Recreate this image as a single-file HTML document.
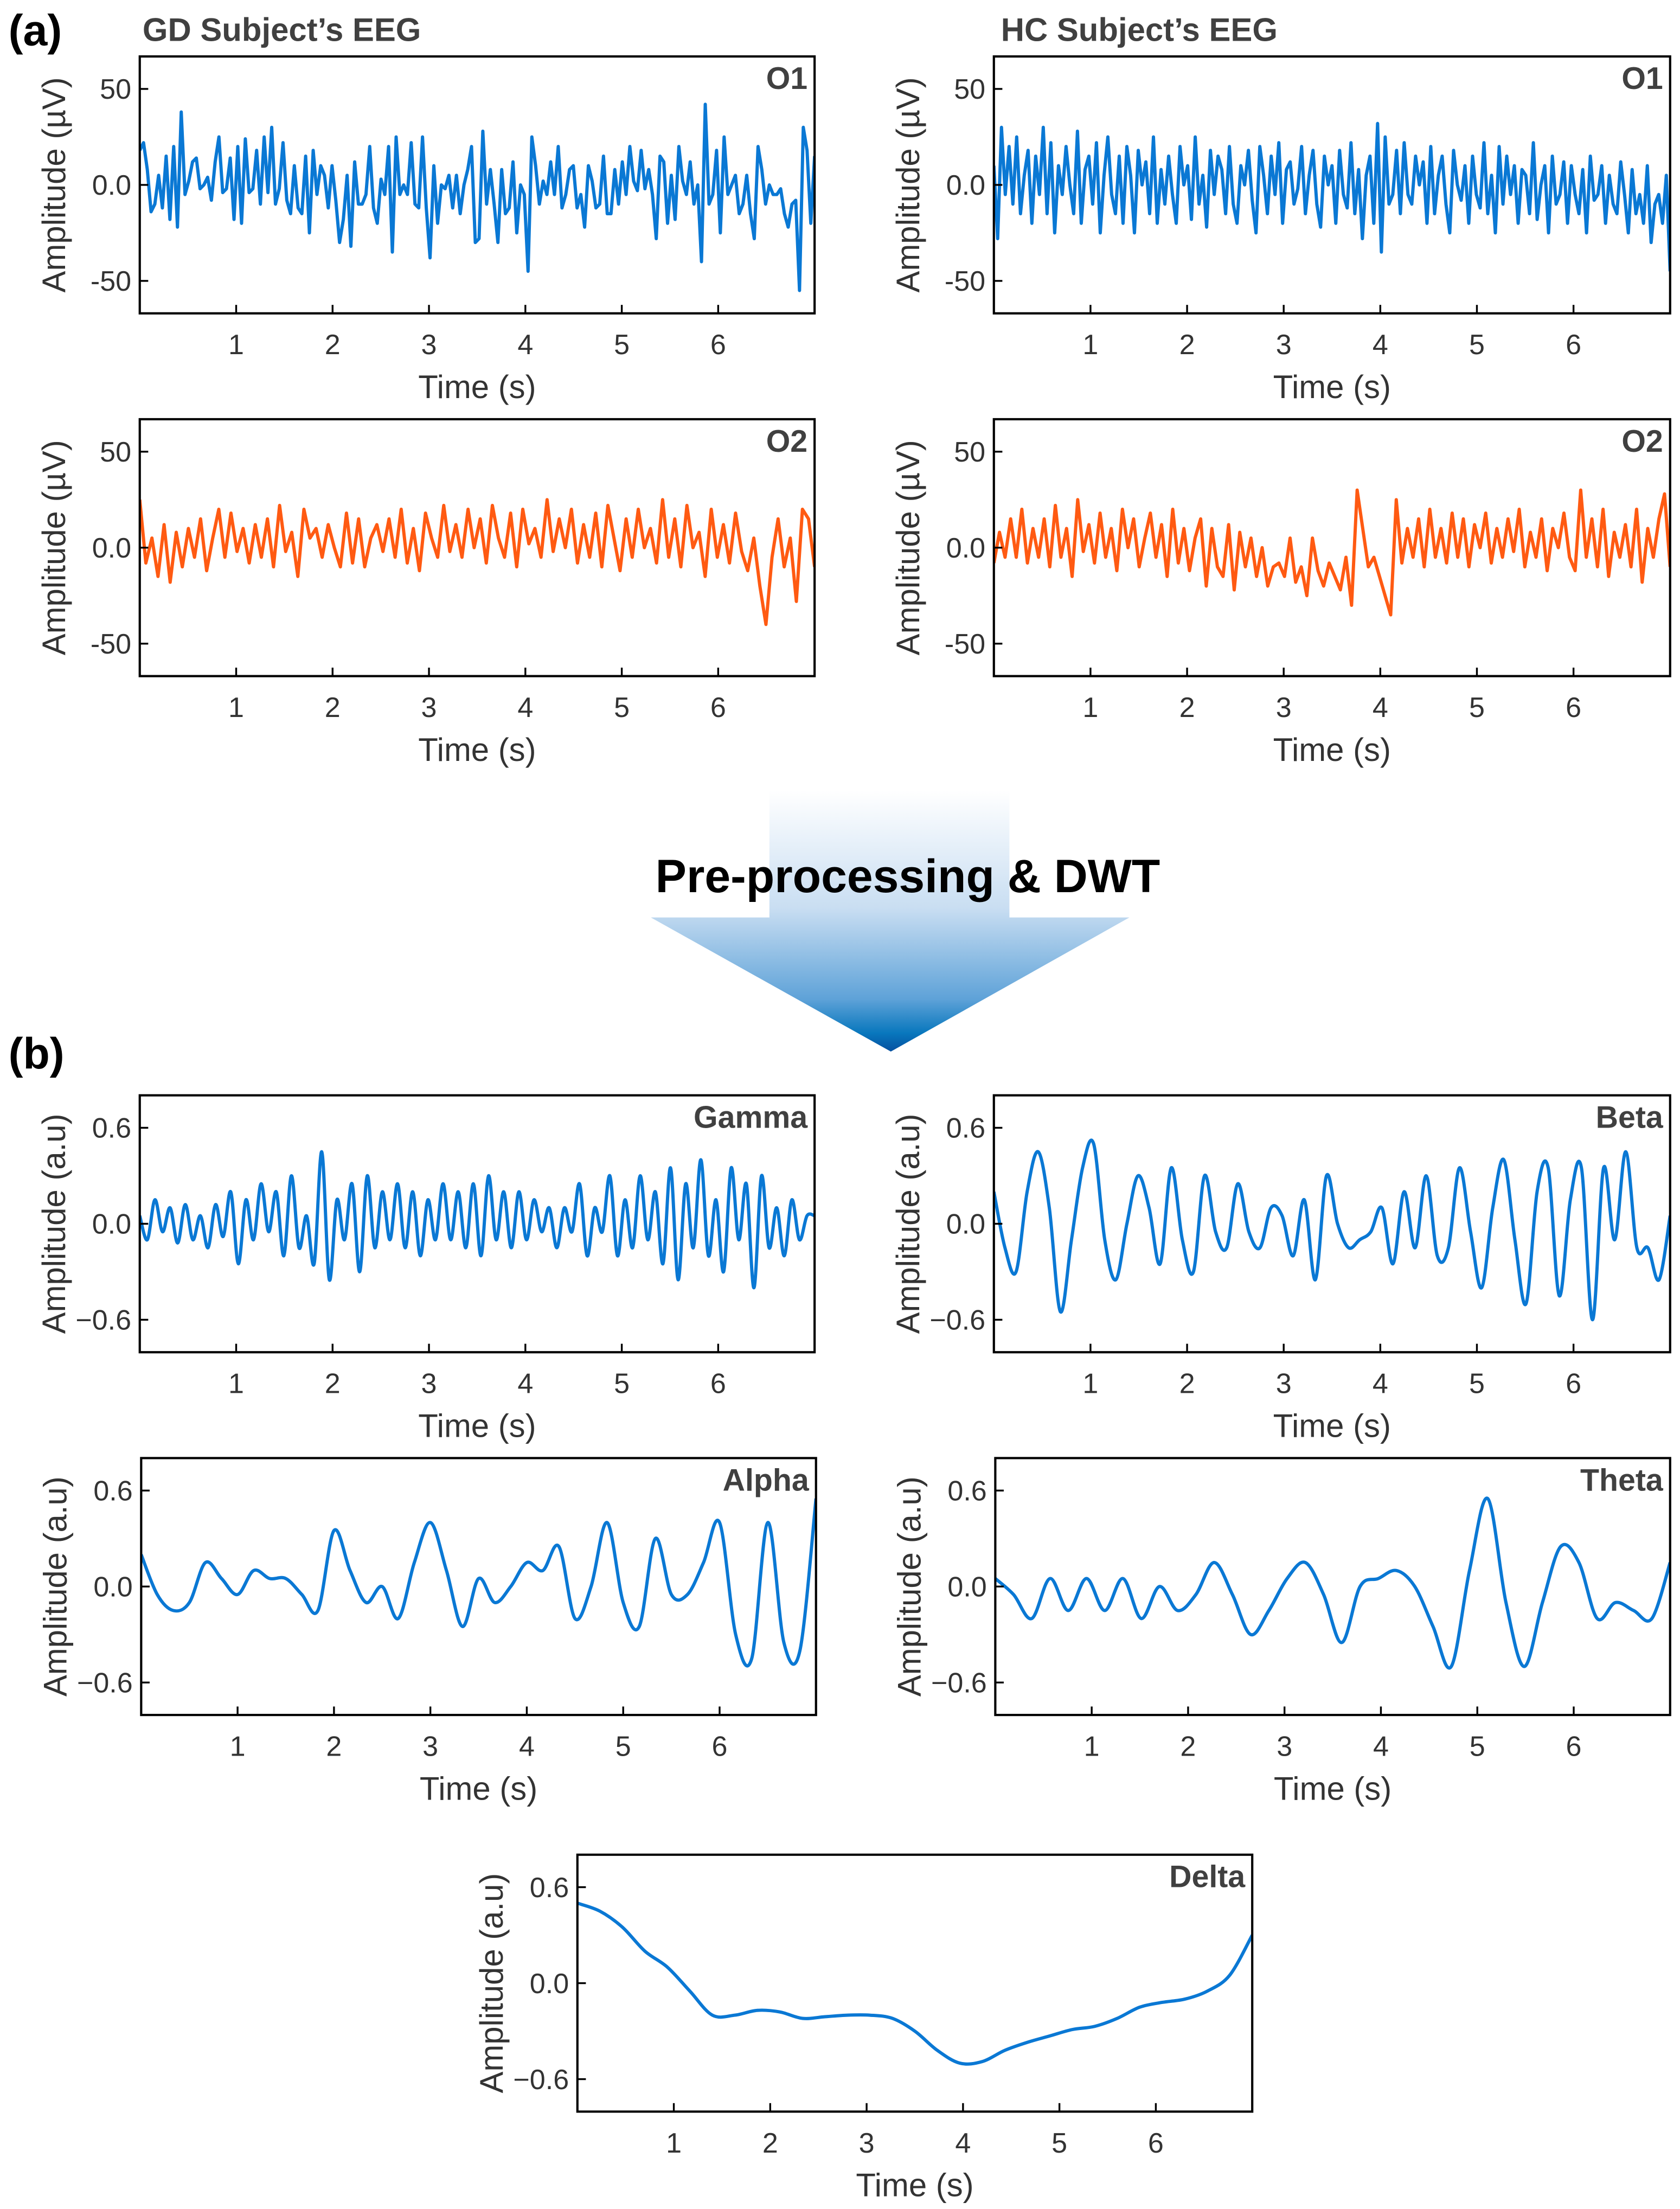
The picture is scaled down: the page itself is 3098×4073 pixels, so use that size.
<!DOCTYPE html>
<html><head><meta charset="utf-8">
<style>
html,body{margin:0;padding:0;background:#fff;}
svg{display:block;}
text{font-family:"Liberation Sans",Arial,sans-serif;}
</style></head>
<body>
<svg id="fig" width="3098" height="4073" viewBox="0 0 1190 1565" preserveAspectRatio="none" xmlns="http://www.w3.org/2000/svg">
<defs>
<linearGradient id="ag" x1="0" y1="0" x2="0" y2="1">
<stop offset="0" stop-color="#ffffff"/>
<stop offset="0.45" stop-color="#c9def2"/>
<stop offset="0.8" stop-color="#5ea2d8"/>
<stop offset="0.93" stop-color="#0877bd"/>
<stop offset="1" stop-color="#0550a0"/>
</linearGradient>
</defs>
<text x="6" y="32" font-size="31" font-weight="bold" fill="#000">(a)</text>
<text x="101" y="29" font-size="23" font-weight="bold" fill="#404040">GD Subject’s EEG</text>
<text x="709" y="29" font-size="23" font-weight="bold" fill="#404040">HC Subject’s EEG</text>
<g>
<polygon points="545,560 715,560 715,650 800,650 631,745 461,650 545,650" fill="url(#ag)"/>
</g>
<text x="643" y="632" font-size="33" font-weight="bold" fill="#000" text-anchor="middle">Pre-processing &amp; DWT</text>
<text x="6" y="757" font-size="31" font-weight="bold" fill="#000">(b)</text>
<g id="charts"></g>
</svg>
<script>
const gdO1 = [18,22,8,-14,-10,5,-12,15,-18,20,-22,38,-5,2,12,14,-2,0,4,-8,12,25,-4,-2,14,-18,20,-20,24,-4,-2,18,-10,25,-4,30,-10,-2,22,-8,-15,10,-12,-15,15,-25,18,-5,10,5,-12,10,-8,-30,-18,5,-32,12,-10,-10,-5,20,-12,-20,3,-5,20,-35,25,-5,0,-5,22,-10,-12,25,-12,-38,10,-20,0,-2,5,-12,5,-15,0,8,20,-30,-28,28,-10,8,-10,-30,8,-15,-12,12,-25,0,-5,-45,25,10,-10,2,-5,12,-5,20,-12,-5,8,10,-12,-5,-22,10,2,-12,-10,15,-15,-15,8,-10,12,-5,20,2,-3,18,-2,8,-5,-28,15,12,-20,5,-18,20,2,-5,12,-10,0,-40,42,-10,-5,18,-25,25,-5,0,5,-15,-10,5,-15,-28,20,8,-10,0,-5,-5,-2,-15,-22,-10,-8,-55,30,18,-20,15];
const hcO1 = [10,-28,30,-5,20,-10,25,-15,5,18,-20,15,-5,30,-15,22,-25,10,-5,20,0,-15,28,-20,8,15,-10,22,-25,5,25,-5,-15,15,-20,20,5,-25,18,0,12,-15,25,-20,8,-10,15,-5,-20,20,0,10,-18,25,-10,5,-22,18,-5,15,8,-15,20,-10,-20,10,0,18,-8,-25,20,5,-15,15,-5,22,-20,8,12,-10,-2,20,-15,5,18,-10,-22,15,0,10,-20,18,-5,-12,22,-15,8,-28,5,15,-20,32,-35,25,-10,-5,18,-15,22,-5,-10,15,0,12,-20,20,-15,5,15,-10,-25,18,0,-8,10,-20,15,-5,-12,22,-15,5,-25,20,-10,15,-5,10,-20,8,5,-15,22,-18,0,10,-25,15,-10,-5,12,-20,10,-5,-15,8,-25,15,-8,-5,10,-20,5,-10,-15,12,-5,-25,8,-15,-5,-20,10,-30,-10,-5,-20,5,-45];
const gdO2 = [25,-8,5,-15,12,-18,8,-10,10,-5,15,-12,5,20,-5,18,-2,10,-8,12,-5,15,-10,22,-2,8,-15,20,5,10,-5,12,0,-10,18,-8,15,-10,5,12,-2,15,-5,20,-8,10,-12,18,5,-5,22,-2,12,-5,20,0,15,-8,22,5,-5,18,-10,20,2,10,-5,25,-2,15,0,20,-8,12,-5,18,-10,22,5,-12,15,-5,20,0,10,-8,25,-5,15,-10,22,0,8,-15,20,-5,12,-8,18,-2,-12,5,-20,-40,-5,15,-10,5,-28,20,15,-10];
const hcO2 = [-8,8,-5,15,-5,20,-8,10,-5,15,-10,22,-5,10,-15,25,-2,12,-8,18,-5,10,-12,20,0,15,-10,5,18,-5,12,-15,20,-8,10,-12,5,15,-20,10,-10,-15,12,-22,8,-10,5,-15,0,-20,-10,-8,-15,5,-18,-10,-25,5,-12,-20,-8,-15,-22,-5,-30,30,10,-10,-5,-15,-25,-35,25,-8,10,-5,15,-10,20,-5,10,-8,18,-5,15,-10,12,0,18,-8,10,-5,15,-2,20,-10,8,-5,15,-12,10,0,18,-5,-12,30,-5,15,-10,20,-15,8,-5,12,-10,20,-18,10,-5,15,28,-10];
const gamma = [0.05,-0.1,0.15,-0.05,0.1,-0.12,0.12,-0.1,0.05,-0.15,0.12,-0.08,0.2,-0.25,0.15,-0.1,0.25,-0.05,0.2,-0.2,0.3,-0.15,0.05,-0.25,0.45,-0.35,0.15,-0.1,0.25,-0.3,0.3,-0.15,0.2,-0.1,0.25,-0.15,0.2,-0.2,0.15,-0.1,0.25,-0.1,0.2,-0.15,0.25,-0.2,0.3,-0.1,0.2,-0.15,0.2,-0.1,0.15,-0.05,0.1,-0.15,0.1,-0.05,0.25,-0.2,0.1,-0.05,0.3,-0.2,0.15,-0.15,0.3,-0.1,0.2,-0.25,0.35,-0.35,0.25,-0.15,0.4,-0.2,0.15,-0.3,0.35,-0.1,0.25,-0.4,0.3,-0.15,0.1,-0.2,0.15,-0.1,0.05,0.05];
const beta = [0.2,-0.15,-0.3,0.2,0.45,0.1,-0.55,-0.1,0.35,0.5,-0.1,-0.35,0.0,0.3,0.1,-0.25,0.35,-0.1,-0.3,0.3,-0.05,-0.15,0.25,-0.05,-0.15,0.1,0.05,-0.2,0.15,-0.35,0.3,0.0,-0.15,-0.1,-0.05,0.1,-0.25,0.2,-0.15,0.3,-0.2,-0.15,0.35,-0.05,-0.4,0.1,0.4,-0.1,-0.5,0.2,0.35,-0.45,0.15,0.35,-0.6,0.35,-0.1,0.45,-0.15,-0.15,-0.35,0.05];
const alpha = [0.2,-0.05,-0.15,-0.1,0.15,0.05,-0.05,0.1,0.05,0.05,-0.05,-0.15,0.35,0.1,-0.1,0.0,-0.2,0.15,0.4,0.1,-0.25,0.05,-0.1,0.0,0.15,0.1,0.25,-0.2,0.0,0.4,-0.1,-0.25,0.3,-0.05,-0.05,0.15,0.4,-0.3,-0.45,0.4,-0.35,-0.4,0.55];
const theta = [0.05,-0.05,-0.2,0.05,-0.15,0.05,-0.15,0.05,-0.2,0.0,-0.15,-0.05,0.15,-0.05,-0.3,-0.15,0.05,0.15,-0.05,-0.35,0.0,0.05,0.1,0.0,-0.25,-0.5,0.1,0.55,-0.1,-0.5,-0.1,0.25,0.15,-0.2,-0.1,-0.15,-0.2,0.15];
const delta = [0.5,0.45,0.35,0.2,0.1,-0.05,-0.2,-0.2,-0.17,-0.18,-0.22,-0.21,-0.2,-0.2,-0.22,-0.3,-0.42,-0.5,-0.49,-0.42,-0.37,-0.33,-0.29,-0.27,-0.22,-0.15,-0.12,-0.1,-0.05,0.05,0.3];
const xTicks = [1,2,3,4,5,6];
const eegTicks = [50,0,-50];
const eegTickLabels = ["50","0.0","-50"];
const dwtTicks = [0.6,0,-0.6];
const dwtTickLabels = ["0.6","0.0","\u22120.6"];

const NS = "http://www.w3.org/2000/svg";
const root = document.getElementById('charts');
function mk(tag, attrs, parent){const e=document.createElementNS(NS,tag);for(const k in attrs)e.setAttribute(k,attrs[k]);(parent||root).appendChild(e);return e;}

function panel(c){
  const g = mk('g',{});
  
  
  const xs = t => c.x0 + (t/7)*(c.x1-c.x0);
  const ys = v => c.zy + (-v/c.ymax)*c.uy;
  const n = c.data.length;
  const pts = c.data.map((v,i)=>[xs(i*7/(n-1)), ys(v)]);
  let d;
  if(c.smooth){
    d = 'M'+pts[0][0]+','+pts[0][1];
    for(let i=0;i<n-1;i++){
      const p0=pts[Math.max(0,i-1)],p1=pts[i],p2=pts[i+1],p3=pts[Math.min(n-1,i+2)];
      const c1=[p1[0]+(p2[0]-p0[0])/6,p1[1]+(p2[1]-p0[1])/6];
      const c2=[p2[0]-(p3[0]-p1[0])/6,p2[1]-(p3[1]-p1[1])/6];
      d+=' C'+c1+' '+c2+' '+p2;
    }
  } else d = 'M'+pts.map(p=>p.join(',')).join(' L');
  const clipId='clip'+c.name;
  const cp=mk('clipPath',{id:clipId},g); mk('rect',{x:c.x0,y:c.y0,width:c.x1-c.x0,height:c.y1-c.y0},cp);
  const line = mk('path',{d:d,fill:'none',stroke:c.color,'stroke-width':2.3,'stroke-linejoin':'round','clip-path':'url(#'+clipId+')'},g);
  
  
  const frame = mk('rect',{x:c.x0,y:c.y0,width:c.x1-c.x0,height:c.y1-c.y0,fill:'none',stroke:'#000','stroke-width':1.6},g);
  
  
  xTicks.forEach(t=>{
    const x=xs(t);
    mk('line',{x1:x,x2:x,y1:c.y1,y2:c.y1-6,stroke:'#000','stroke-width':1.3},g);
    const tx=mk('text',{x:x,y:c.y1+29,'font-size':20,fill:'#333','text-anchor':'middle'},g);
    tx.textContent=t;
    
    
  });
  c.ticks.forEach((v,i)=>{
    const y=ys(v);
    mk('line',{x1:c.x0,x2:c.x0+6,y1:y,y2:y,stroke:'#000','stroke-width':1.3},g);
    const tx=mk('text',{x:c.x0-6,y:y+7,'font-size':20,fill:'#333','text-anchor':'end'},g);
    tx.textContent=c.tickLabels[i];
    
    
  });
  const xl=mk('text',{x:(c.x0+c.x1)/2,y:c.y1+60,'font-size':23,fill:'#333','text-anchor':'middle'},g);
  xl.textContent='Time (s)';
  
  
  const cy=(c.y0+c.y1)/2;
  const yl=mk('text',{x:c.x0-59,y:cy,'font-size':23,fill:'#333','text-anchor':'middle',transform:'rotate(-90 '+(c.x0-59)+' '+cy+')','dominant-baseline':'middle'},g);
  yl.textContent=c.ylabel;
  
  
  const lb=mk('text',{x:c.x1-5,y:c.y0+23,'font-size':22,'font-weight':'bold',fill:'#404040','text-anchor':'end'},g);
  lb.textContent=c.label;
  
  
}
const B='#0a78d4', O='#ff5a12';
const eeg = (name,x0,x1,y0,y1,data,color,label)=>panel({name,x0,x1,y0,y1,zy:y0+91,uy:68,ymax:50,data,color,label,ticks:eegTicks,tickLabels:eegTickLabels,ylabel:'Amplitude (\u00b5V)',smooth:false});
const dwt = (name,x0,x1,y0,y1,data,label)=>panel({name,x0,x1,y0,y1,zy:y0+91,uy:68,ymax:0.6,data,color:B,label,ticks:dwtTicks,tickLabels:dwtTickLabels,ylabel:'Amplitude (a.u)',smooth:true});
eeg('gd-o1',99,577,40,222,gdO1,B,'O1');
eeg('hc-o1',704,1183,40,222,hcO1,B,'O1');
eeg('gd-o2',99,577,297,479,gdO2,O,'O2');
eeg('hc-o2',704,1183,297,479,hcO2,O,'O2');
dwt('gamma',99,577,776,958,gamma,'Gamma');
dwt('beta',704,1183,776,958,beta,'Beta');
dwt('alpha',100,578,1033,1215,alpha,'Alpha');
dwt('theta',705,1183,1033,1215,theta,'Theta');
dwt('delta',409,887,1314,1496,delta,'Delta');
</script>
</body></html>
